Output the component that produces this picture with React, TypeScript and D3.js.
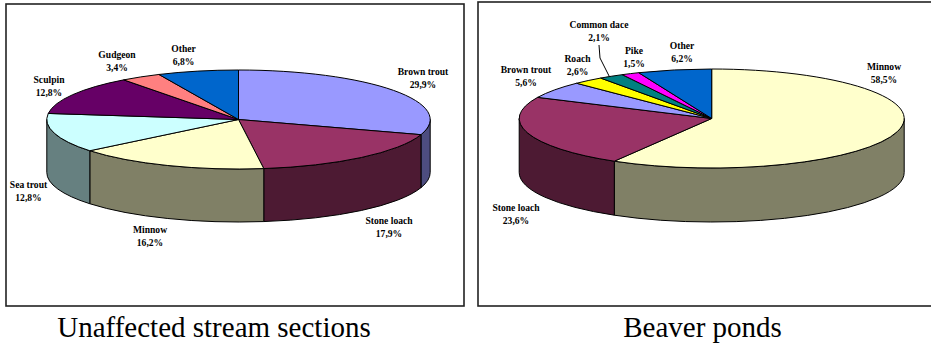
import React from "react";
import * as d3 from "d3";

const streamSpecies = ["Brown trout", "Stone loach", "Minnow", "Sea trout", "Sculpin", "Gudgeon", "Other"];
const streamShares = [29.9, 17.9, 16.2, 12.8, 12.8, 3.4, 6.8];
const streamColors = ["#9999ff", "#993366", "#ffffcc", "#ccffff", "#660066", "#ff8080", "#0066cc"];

const pondSpecies = ["Minnow", "Stone loach", "Brown trout", "Roach", "Common dace", "Pike", "Other"];
const pondShares = [58.5, 23.6, 5.6, 2.6, 2.1, 1.5, 6.2];
const pondColors = ["#ffffcc", "#993366", "#9999ff", "#ffff00", "#008080", "#ff00ff", "#0066cc"];

const streamTitle = "Unaffected stream sections";
const pondTitle = "Beaver ponds";

// label centres per slice, in chart coordinates
const streamLabelAt: [number, number][] = [[423, 75], [389, 224], [150, 233], [28.5, 188], [49, 83], [117, 58], [183.5, 52]];
const pondLabelAt: [number, number][] = [[884, 70], [516, 211], [526, 73], [577.5, 62], [599, 28], [634, 54], [682, 49]];

type PieProps = {
  names: string[];
  shares: number[];
  colors: string[];
  cx: number;
  cy: number;
  rx: number;
  ry: number;
  depth: number;
  labelAt: [number, number][];
};

const shade = (hex: string) => {
  const c = d3.rgb(hex);
  return d3.rgb(c.r * 0.5, c.g * 0.5, c.b * 0.5).formatHex();
};

function TiltedPie({ names, shares, colors, cx, cy, rx, ry, depth, labelAt }: PieProps) {
  const arcs = d3.pie<number>().sort(null)(shares);
  const px = (a: number) => cx + rx * Math.sin(a);
  const py = (a: number) => cy - ry * Math.cos(a);
  const large = (a0: number, a1: number) => (a1 - a0 > Math.PI ? 1 : 0);

  // The visible rim covers the lower half of the ellipse, from PI/2 to 3PI/2.
  const walls = arcs
    .map((d, i) => ({
      i,
      a0: Math.max(d.startAngle, Math.PI / 2),
      a1: Math.min(d.endAngle, (3 * Math.PI) / 2),
    }))
    .filter((w) => w.a1 > w.a0);

  return (
    <g stroke="#000" strokeWidth={1} strokeLinejoin="round">
      {walls.map((w) => (
        <path
          key={`wall-${w.i}`}
          fill={shade(colors[w.i])}
          d={`M${px(w.a0)},${py(w.a0)}A${rx},${ry} 0 ${large(w.a0, w.a1)} 1 ${px(w.a1)},${py(w.a1)}L${px(w.a1)},${py(w.a1) + depth}A${rx},${ry} 0 ${large(w.a0, w.a1)} 0 ${px(w.a0)},${py(w.a0) + depth}Z`}
        />
      ))}
      {arcs.map((d, i) => (
        <path
          key={`top-${i}`}
          fill={colors[i]}
          d={`M${cx},${cy}L${px(d.startAngle)},${py(d.startAngle)}A${rx},${ry} 0 ${large(d.startAngle, d.endAngle)} 1 ${px(d.endAngle)},${py(d.endAngle)}Z`}
        />
      ))}
      <g stroke="none" fontFamily="'Liberation Serif'" fontWeight="bold" fontSize={9.6} textAnchor="middle" fill="#000">
        {names.map((n, i) => (
          <text key={n} x={labelAt[i][0]} y={labelAt[i][1]}>
            <tspan x={labelAt[i][0]}>{n}</tspan>
            <tspan x={labelAt[i][0]} dy={13}>{String(shares[i]).replace(".", ",")}%</tspan>
          </text>
        ))}
      </g>
    </g>
  );
}

export default function App() {
  const dace = pondSpecies.indexOf("Common dace");
  const daceArc = d3.pie<number>().sort(null)(pondShares)[dace];
  const daceMid = (daceArc.startAngle + daceArc.endAngle) / 2;
  const leader = d3.line()([
    [599, 45],
    [600, 58],
    [711.7 + 192.5 * Math.sin(daceMid) - 2, 118.5 - 49.5 * Math.cos(daceMid)],
  ]);
  return (
    <svg
      width={931}
      height={346}
      style={{ position: "absolute", left: 0, top: 0, background: "#fff" }}
    >
      <rect x={6} y={4} width={458} height={302} fill="#fff" stroke="#222" strokeWidth={1.6} />
      <rect x={478} y={2} width={460} height={304} fill="#fff" stroke="#222" strokeWidth={1.6} />
      <TiltedPie names={streamSpecies} shares={streamShares} colors={streamColors} cx={238.5} cy={119.5} rx={191.7} ry={49.5} depth={53} labelAt={streamLabelAt} />
      <TiltedPie names={pondSpecies} shares={pondShares} colors={pondColors} cx={711.7} cy={118.5} rx={192.5} ry={49.5} depth={54} labelAt={pondLabelAt} />
      <path d={leader ?? ""} fill="none" stroke="#000" />
      <g fontFamily="'Liberation Serif'" fontSize={29} textAnchor="middle" fill="#000">
        <text x={214} y={337}>{streamTitle}</text>
        <text x={702.5} y={337}>{pondTitle}</text>
      </g>
    </svg>
  );
}
